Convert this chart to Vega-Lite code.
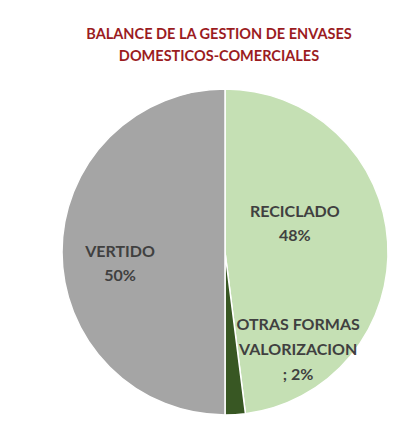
{
  "$schema": "https://vega.github.io/schema/vega-lite/v6.json",
  "autosize": "none",
  "width": 326,
  "height": 326,
  "padding": {"left": 62, "top": 89, "right": 24, "bottom": 22},
  "background": "white",
  "title": {
    "text": ["BALANCE DE LA GESTION DE ENVASES", "DOMESTICOS-COMERCIALES"],
    "color": "#9B1C1F",
    "font": "Lato",
    "fontSize": 14.5,
    "fontWeight": "bold",
    "lineHeight": 22,
    "anchor": "middle",
    "dx": -6,
    "offset": 22
  },
  "data": {
    "values": [
      {"categoria": "RECICLADO", "pct": 48, "orden": 1},
      {"categoria": "OTRAS FORMAS VALORIZACION", "pct": 2, "orden": 2},
      {"categoria": "VERTIDO", "pct": 50, "orden": 3}
    ]
  },
  "encoding": {
    "theta": {"field": "pct", "type": "quantitative", "stack": true},
    "order": {"field": "orden", "type": "quantitative"}
  },
  "layer": [
    {
      "mark": {"type": "arc", "stroke": "white", "strokeWidth": 1.5},
      "encoding": {
        "color": {
          "field": "categoria",
          "type": "nominal",
          "scale": {
            "domain": ["RECICLADO", "OTRAS FORMAS VALORIZACION", "VERTIDO"],
            "range": ["#C5E0B4", "#385723", "#A5A5A5"]
          },
          "legend": null
        }
      }
    },
    {
      "mark": {"type": "text", "radius": 72, "dy": -35, "dx": -2, "font": "Lato", "fontWeight": "bold", "fontSize": 16, "color": "#404040", "lineHeight": 24, "align": "center", "baseline": "middle"},
      "encoding": {"text": {"condition": {"test": "datum.categoria == 'RECICLADO'", "value": ["RECICLADO", "48%"]}, "value": ""}}
    },
    {
      "mark": {"type": "text", "radius": 105, "dy": 0, "font": "Lato", "fontWeight": "bold", "fontSize": 16, "color": "#404040", "lineHeight": 24, "align": "center", "baseline": "middle"},
      "encoding": {"text": {"condition": {"test": "datum.categoria == 'VERTIDO'", "value": ["VERTIDO", "50%"]}, "value": ""}}
    },
    {
      "mark": {"type": "text", "radius": 98, "dx": 67, "dy": -25, "font": "Lato", "fontWeight": "bold", "fontSize": 16, "color": "#404040", "lineHeight": 25, "align": "center", "baseline": "middle"},
      "encoding": {"text": {"condition": {"test": "datum.categoria == 'OTRAS FORMAS VALORIZACION'", "value": ["OTRAS FORMAS", "VALORIZACION", "; 2%"]}, "value": ""}}
    }
  ],
  "view": {"stroke": null}
}
